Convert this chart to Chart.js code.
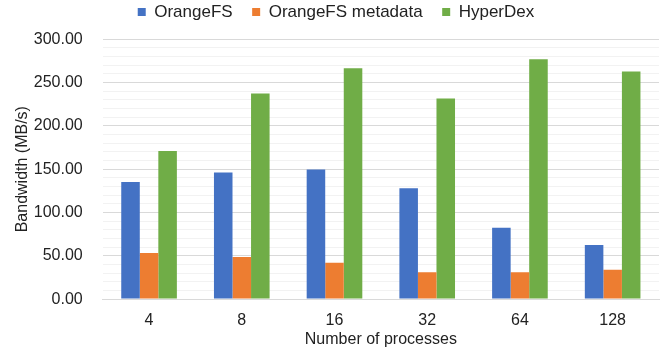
<!DOCTYPE html>
<html>
<head>
<meta charset="utf-8">
<script src="https://cdn.jsdelivr.net/npm/chart.js@4"></script>
<style>
  html, body { margin: 0; padding: 0; background: #fff; }
  #wrap { width: 663px; height: 353px; }
</style>
</head>
<body>
<div id="wrap"><canvas id="c"></canvas></div>
<script>
// bandwidth per process count
const processes = ['4', '8', '16', '32', '64', '128'];
const orangefs = [135.2, 146.2, 149.7, 127.9, 82.4, 62.6];
const orangefsMeta = [53.3, 48.6, 42.0, 31.1, 31.1, 33.8];
const hyperdex = [171.0, 237.5, 266.6, 231.7, 277.1, 262.8];

Chart.defaults.font.family = "'Liberation Sans', Arial, sans-serif";
Chart.defaults.font.size = 16;
Chart.defaults.color = '#222';

// push the plot down a bit below the legend
const legendGap = {
    id: 'legendGap',
    beforeInit(chart) {
        const fit = chart.legend.fit;
        chart.legend.fit = function () {
            fit.call(this);
            this.height = 55.3;
        };
    }
};

new Chart(document.getElementById('c').getContext('2d'), {
    type: 'bar',
    data: {
        labels: processes,
        datasets: [
            { label: 'OrangeFS', data: orangefs, backgroundColor: '#4472C4' },
            { label: 'OrangeFS metadata', data: orangefsMeta, backgroundColor: '#ED7D31' },
            { label: 'HyperDex', data: hyperdex, backgroundColor: '#70AD47' }
        ]
    },
    options: {
        responsive: true, maintainAspectRatio: false, animation: false,
        layout: { padding: { left: 13, right: 4, top: -16, bottom: 3.5 } },
        datasets: { bar: { categoryPercentage: 0.6, barPercentage: 1.0 } },
        plugins: {
            tooltip: { enabled: false },
            legend: {
                position: 'top',
                labels: { boxWidth: 8, boxHeight: 8, padding: 19.5, font: { size: 17 } }
            }
        },
        scales: {
            x: {
                grid: { display: false },
                border: { color: '#d9d9d9' },
                ticks: { padding: 3.5, font: { size: 16 } },
                title: { display: true, text: 'Number of processes', padding: { top: -3, bottom: 0 }, font: { size: 16 } }
            },
            y: {
                min: 0, max: 300,
                border: { display: false },
                afterFit: (scale) => { scale.width = 89.7; },
                grid: {
                    drawTicks: false,
                    color: (ctx) => (ctx.tick && ctx.tick.value % 50 === 0) ? '#d9d9d9' : '#f2f2f2'
                },
                ticks: {
                    stepSize: 10, autoSkip: false, padding: 20, font: { size: 16 },
                    callback: (v) => v % 50 === 0 ? v.toFixed(2) : ''
                },
                title: { display: true, text: 'Bandwidth (MB/s)', padding: { top: 0, bottom: 0 }, font: { size: 16 } }
            }
        }
    },
    plugins: [legendGap]
});
</script>
</body>
</html>
